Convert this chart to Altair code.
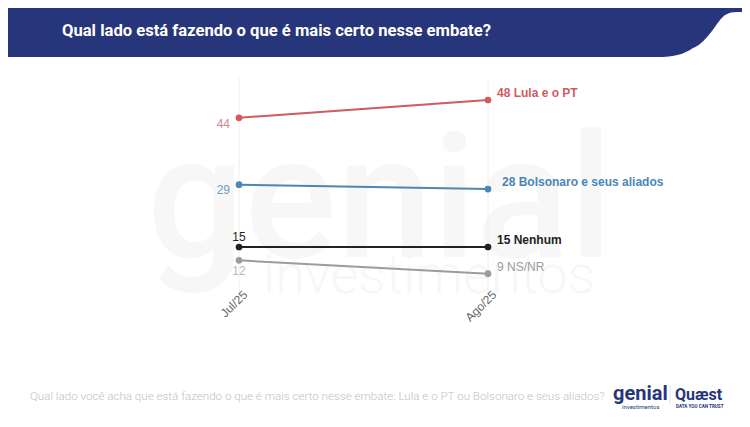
import altair as alt
import pandas as pd

# ---------------- data ----------------
months = ["Jul/25", "Ago/25"]
series = ["Lula e o PT", "Bolsonaro e seus aliados", "Nenhum", "NS/NR"]
lula = [44, 48]
bolsonaro = [29, 28]
nenhum = [15, 15]
nsnr = [12, 9]

title_text = "Qual lado está fazendo o que é mais certo nesse embate?"
footer_text = ("Qual lado você acha que está fazendo o que é mais certo nesse embate: "
               "Lula e o PT ou Bolsonaro e seus aliados?")

# ---------------- styles ----------------
line_colors = ["#d35a5c", "#4a86b6", "#222222", "#9c9c9c"]
left_colors = ["#c98a92", "#6b9cc2", "#222222", "#b9b9b9"]
right_colors = ["#d35a5c", "#4a86b6", "#222222", "#9c9c9c"]
navy = "#27357a"
FONT = "Liberation Sans, Arial, sans-serif"
NARROW = "Liberation Sans Narrow, Roboto, sans-serif"

values = [lula, bolsonaro, nenhum, nsnr]
rows = []
for s, vals in zip(series, values):
    for m, v in zip(months, vals):
        rows.append({"month": m, "series": s, "value": v})
df = pd.DataFrame(rows)

X = alt.X("month:N", scale=alt.Scale(type="point", domain=months, range=[231, 480], padding=0), axis=None)
Y = alt.Y("value:Q", scale=alt.Scale(domain=[0, 50], range=[305.8, 83.1], nice=False, zero=False), axis=None)
C = alt.Color("series:N", scale=alt.Scale(domain=series, range=line_colors), legend=None)

base = alt.Chart(df)

# watermark
wm1 = alt.Chart(pd.DataFrame({"t": ["genial"]})).mark_text(
    font="Roboto", fontSize=172, fontWeight=500, color="#f7f7f7", align="center", baseline="alphabetic"
).encode(text="t:N", x=alt.value(372), y=alt.value(249))
wm2 = alt.Chart(pd.DataFrame({"t": ["investimentos"]})).mark_text(
    font="Roboto", fontSize=54, fontWeight=300, color="#f7f7f7", align="left", baseline="alphabetic"
).encode(text="t:N", x=alt.value(255), y=alt.value(285))

grid = base.transform_filter(alt.datum.series == series[0]).mark_rule(color="#eeeeee", strokeWidth=1).encode(
    x=X, y=alt.value(70), y2=alt.value(290))

# header
header = alt.Chart(pd.DataFrame({"a": [0]})).mark_rect(color=navy).encode(
    x=alt.value(0), x2=alt.value(655), y=alt.value(0), y2=alt.value(49))
box = [(0, 0), (90, 0), (90, 24), (79, 24)]
curves = [((70, 24), (66, 27), (62, 32)), ((57, 38), (54, 44), (49, 49)),
          ((44, 55), (40, 58), (35, 60)), ((29, 64), (22, 68), (5, 69))]
def u(p):
    return f"{p[0]/45-1:.3f},{p[1]/45-1:.3f}"
path = "M" + u(box[0]) + "".join(" L" + u(p) for p in box[1:])
for c in curves:
    path += " C" + " ".join(u(p) for p in c)
path += " L" + u((0, 69)) + " Z"
header_curve = alt.Chart(pd.DataFrame({"a": [0]})).mark_point(
    shape=path, filled=True, color=navy, opacity=1, size=8100, strokeWidth=0
).encode(x=alt.value(695), y=alt.value(25))
title = alt.Chart(pd.DataFrame({"t": [title_text]})).mark_text(
    font=NARROW, fontSize=16.6, fontWeight="bold", color="white", align="left", baseline="middle"
).encode(text="t:N", x=alt.value(54), y=alt.value(23))

lines = base.mark_line(strokeWidth=2).encode(x=X, y=Y, color=C)
points = base.mark_circle(size=45, opacity=1).encode(x=X, y=Y, color=C)

# left labels
left_cfg = [("right", -9, 6), ("right", -9, 5), ("center", 0, -10), ("center", 0, 11)]
left_layers = []
for s, col, (al, dx, dy) in zip(series, left_colors, left_cfg):
    left_layers.append(
        base.transform_filter((alt.datum.series == s) & (alt.datum.month == months[0]))
        .mark_text(font=FONT, fontSize=12, color=col, align=al, baseline="middle", dx=dx, dy=dy)
        .encode(x=X, y=Y, text="value:Q"))

# right labels
right_cfg = [(9, -7, "bold"), (14, -7, "bold"), (9, -7, "bold"), (9, -7, "normal")]
right_layers = []
for s, col, (dx, dy, fw) in zip(series, right_colors, right_cfg):
    right_layers.append(
        base.transform_filter((alt.datum.series == s) & (alt.datum.month == months[1]))
        .transform_calculate(lab="datum.value + ' ' + datum.series")
        .mark_text(font=FONT, fontSize=12, fontWeight=fw, color=col, align="left", baseline="middle", dx=dx, dy=dy)
        .encode(x=X, y=Y, text="lab:N"))

xlabels = base.transform_filter(alt.datum.series == series[0]).mark_text(
    font=FONT, fontSize=12, color="#666666", align="right", baseline="middle", angle=315, dx=9
).encode(x=X, y=alt.value(291), text="month:N")

footer = alt.Chart(pd.DataFrame({"t": [footer_text]})).mark_text(
    font=NARROW, fontSize=11.6, fontWeight=300, color="#c2c2c2", align="left", baseline="middle"
).encode(text="t:N", x=alt.value(22), y=alt.value(389))

logo1 = alt.Chart(pd.DataFrame({"t": ["genial"]})).mark_text(
    font="Roboto", fontSize=20, fontWeight="bold", color=navy, align="left", baseline="alphabetic"
).encode(text="t:N", x=alt.value(605), y=alt.value(392))
logo1b = alt.Chart(pd.DataFrame({"t": ["investimentos"]})).mark_text(
    font="Roboto", fontSize=6, color=navy, align="left", baseline="middle"
).encode(text="t:N", x=alt.value(614), y=alt.value(399))
sep = alt.Chart(pd.DataFrame({"a": [0]})).mark_rule(color="#e3e3e3").encode(
    x=alt.value(662), y=alt.value(377), y2=alt.value(397))
logo2 = alt.Chart(pd.DataFrame({"t": ["Quæst"]})).mark_text(
    font="Roboto", fontSize=16, fontWeight="bold", color=navy, align="left", baseline="alphabetic"
).encode(text="t:N", x=alt.value(667), y=alt.value(392))
logo2b = alt.Chart(pd.DataFrame({"t": ["DATA YOU CAN TRUST"]})).mark_text(
    font="Roboto", fontSize=4.6, fontWeight="bold", color=navy, align="left", baseline="middle"
).encode(text="t:N", x=alt.value(668), y=alt.value(399))

chart = alt.layer(
    wm1, wm2, grid, header, header_curve, title, lines, points,
    *left_layers, *right_layers, xlabels, footer, logo1, logo1b, sep, logo2, logo2b
).properties(
    width=734, height=410, autosize="none", padding=0, background="white"
).configure_view(stroke=None)

chart.save("out.html", embed_options={"renderer": "svg", "actions": False})
